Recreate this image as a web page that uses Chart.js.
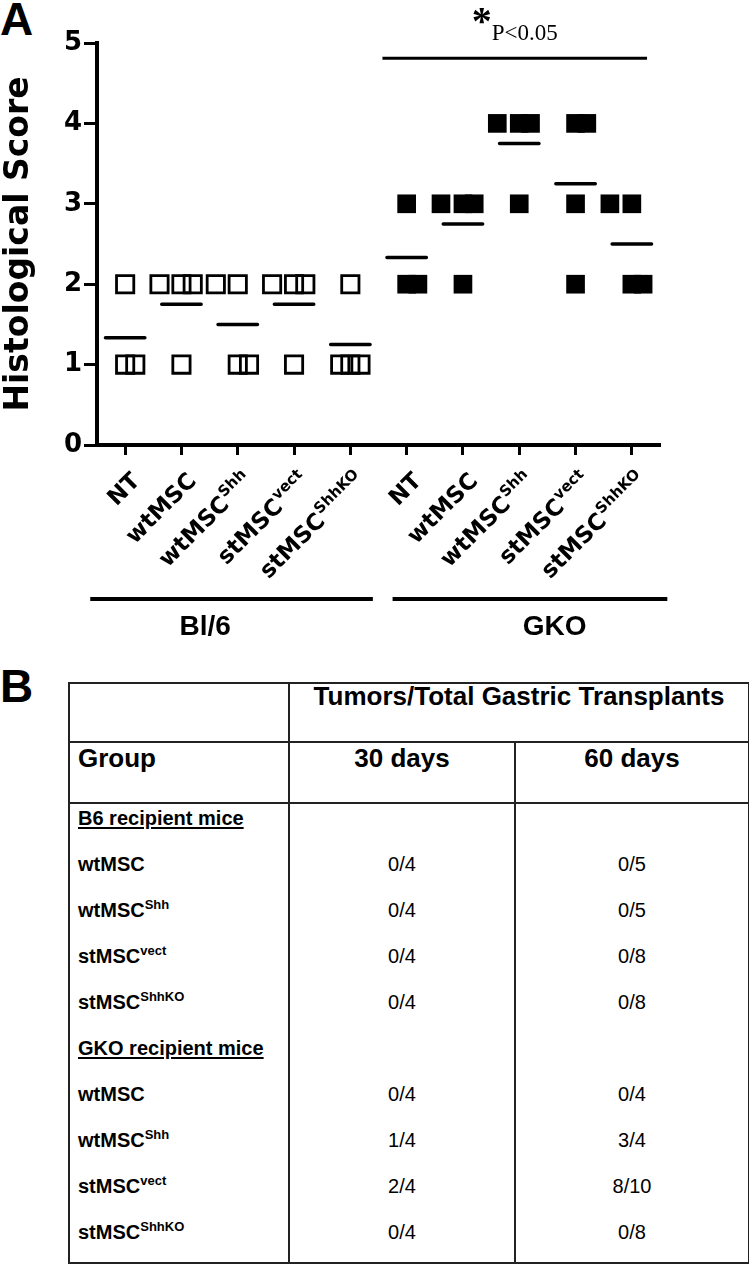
<!DOCTYPE html>
<html>
<head>
<meta charset="utf-8">
<script src="https://cdn.jsdelivr.net/npm/chart.js@4.4.0/dist/chart.umd.min.js"></script>
<style>
  body { margin: 0; background: #fff; width: 749px; height: 1268px; position: relative; overflow: hidden;
         font-family: "Liberation Sans", Arial, sans-serif; color: #000; }
  #chartBox { position: absolute; left: 0; top: 0; width: 749px; height: 680px; }
  .panel { position: absolute; left: 0; font: bold 46px "Liberation Sans", Arial, sans-serif; line-height: 46px; }
  #tbl { position: absolute; left: 68px; top: 682px; width: 680px; border-collapse: collapse;
         table-layout: fixed; border: 2px solid #222; }
  #tbl th { border: 2px solid #222; font-weight: bold; font-size: 26px; line-height: 22px; vertical-align: top; padding: 0; }
  #tbl td { border-left: 2px solid #222; border-right: 2px solid #222; border-top: none; border-bottom: none;
            font-size: 20px; line-height: 20px; vertical-align: top; padding: 4px 0 0 0; height: 42px; }
  #tbl .lab { font-weight: bold; padding-left: 8px; }
  #tbl .val { text-align: center; }
  #tbl sup { font-size: 13px; line-height: 0; vertical-align: 8px; font-weight: bold; }
  #tbl u { text-decoration-thickness: 2px; text-underline-offset: 2px; }
</style>
</head>
<body>
<div class="panel" style="top:-4px">A</div>
<div class="panel" style="top:663px">B</div>
<div id="chartBox"><canvas id="scoreChart"></canvas></div>
<table id="tbl">
  <colgroup><col style="width:220px"><col style="width:226px"><col style="width:234px"></colgroup>
  <thead>
    <tr style="height:59px"><th></th><th colspan="2" style="padding-top:1px">Tumors/Total Gastric Transplants</th></tr>
    <tr style="height:61px"><th style="text-align:left;padding:4px 0 0 8px">Group</th><th style="padding-top:4px">30 days</th><th style="padding-top:4px">60 days</th></tr>
  </thead>
  <tbody id="tbody"></tbody>
</table>
<script>
// {Histological score per group + tumor table}

// x categories (Bl/6 first five, GKO last five)
const categories = ['NT', 'wtMSC', 'wtMSC', 'stMSC', 'stMSC', 'NT', 'wtMSC', 'wtMSC', 'stMSC', 'stMSC'];
const sups = ['', '', 'Shh', 'vect', 'ShhKO', '', '', 'Shh', 'vect', 'ShhKO'];

// scores of each animal, and its horizontal scatter inside the column
const scores = [
  [2, 1, 1], [2, 2, 2, 1], [2, 2, 1, 1], [2, 2, 2, 1], [2, 1, 1, 1],
  [3, 2, 2], [3, 3, 3, 2], [4, 4, 4, 3], [4, 4, 3, 2], [3, 3, 2, 2]
];
const jitter = [
  [0, 0, 0.18], [-0.39, 0, 0.2, 0], [-0.39, 0, 0, 0.2], [-0.39, 0, 0.2, 0], [0, -0.18, 0, 0.18],
  [0, 0, 0.2], [-0.39, 0, 0.2, 0], [-0.39, 0, 0.2, 0], [0, 0.2, 0, 0], [-0.39, 0, 0, 0.2]
];
const yTicks = [0, 1, 2, 3, 4, 5];

// strain groups under the axis
const groups = ['Bl/6', 'GKO'];
const groupSpans = [[-0.62, 4.4], [4.75, 9.63]];
const groupLabelX = [1.42, 7.63];

// significance bar
const sigSpan = [4.57, 9.27];
const sigY = 4.81;
const sigText = 'P<0.05';

// table B
const recipients = ['B6 recipient mice', 'GKO recipient mice'];
const tableLabels = ['wtMSC', 'wtMSC', 'stMSC', 'stMSC'];
const tableSups = ['', 'Shh', 'vect', 'ShhKO'];
const b6Day30 = ['0/4', '0/4', '0/4', '0/4'];
const b6Day60 = ['0/5', '0/5', '0/8', '0/8'];
const gkoDay30 = ['0/4', '1/4', '2/4', '0/4'];
const gkoDay60 = ['0/4', '3/4', '8/10', '0/8'];

const meanHalf = 0.35;

// ---- table rows
const tbody = document.getElementById('tbody');
function addRow(labelHtml, v30, v60, extra) {
  const tr = document.createElement('tr');
  tr.innerHTML = '<td class="lab">' + labelHtml + '</td><td class="val">' + v30 + '</td><td class="val">' + v60 + '</td>';
  if (extra) tr.querySelectorAll('td').forEach(td => td.style.height = extra);
  tbody.appendChild(tr);
}
[[b6Day30, b6Day60], [gkoDay30, gkoDay60]].forEach((cols, g) => {
  addRow('<u>' + recipients[g] + '</u>', '', '');
  tableLabels.forEach((lab, k) => {
    const last = g === 1 && k === tableLabels.length - 1;
    addRow(lab + (tableSups[k] ? '<sup>' + tableSups[k] + '</sup>' : ''), cols[0][k], cols[1][k], last ? '40px' : null);
  });
});

// ---- chart data
const ptsBl6 = [], ptsGko = [], meanPts = [];
scores.forEach((vals, i) => {
  const target = i < 5 ? ptsBl6 : ptsGko;
  vals.forEach((v, k) => target.push({ x: i + jitter[i][k], y: v }));
  const m = vals.reduce((a, b) => a + b, 0) / vals.length;
  meanPts.push({ x: i - meanHalf, y: m }, { x: i + meanHalf, y: m }, { x: i + 0.5, y: null });
});

const extras = {
  id: 'extras',
  afterDraw(chart) {
    const { ctx, scales: { x, y } } = chart;
    const base = y.getPixelForValue(0);
    ctx.save();
    ctx.fillStyle = '#000';
    ctx.strokeStyle = '#000';

    // rotated category labels with superscripts
    categories.forEach((name, i) => {
      ctx.save();
      ctx.translate(x.getPixelForValue(i) + 16, base + 37);
      ctx.rotate(-Math.PI / 4);
      ctx.textAlign = 'right';
      ctx.textBaseline = 'alphabetic';
      let sw = 0;
      if (sups[i]) {
        ctx.font = 'bold 15px "DejaVu Sans"';
        sw = ctx.measureText(sups[i]).width + 1;
        ctx.fillText(sups[i], 0, -10);
      }
      ctx.font = 'bold 23px "DejaVu Sans"';
      ctx.fillText(name, -sw, 0);
      ctx.restore();
    });

    // group bars + names
    ctx.lineWidth = 4;
    groups.forEach((g, k) => {
      ctx.beginPath();
      ctx.moveTo(x.getPixelForValue(groupSpans[k][0]), base + 154);
      ctx.lineTo(x.getPixelForValue(groupSpans[k][1]), base + 154);
      ctx.stroke();
      ctx.font = 'bold 28px "Liberation Sans", Arial, sans-serif';
      ctx.textAlign = 'center';
      ctx.textBaseline = 'alphabetic';
      ctx.fillText(g, x.getPixelForValue(groupLabelX[k]), base + 190);
    });

    // * P<0.05 over the significance bar
    const mid = x.getPixelForValue((sigSpan[0] + sigSpan[1]) / 2);
    const ly = y.getPixelForValue(sigY);
    ctx.textAlign = 'left';
    ctx.font = 'bold 40px "Liberation Serif", "Times New Roman", serif';
    const ws = ctx.measureText('*').width;
    ctx.font = '23px "Liberation Serif", "Times New Roman", serif';
    const wp = ctx.measureText(sigText).width;
    const x0 = mid - (ws + wp) / 2;
    ctx.fillText(sigText, x0 + ws, ly - 18);
    ctx.font = 'bold 40px "Liberation Serif", "Times New Roman", serif';
    ctx.fillText('*', x0, ly - 24);
    ctx.restore();
  }
};

const ctxC = document.getElementById('scoreChart');
new Chart(ctxC, {
  type: 'scatter',
  data: {
    datasets: [
      {
        label: 'Bl/6',
        data: ptsBl6,
        pointStyle: 'rect',
        pointRadius: 12.2,
        pointBorderWidth: 2.8,
        borderColor: '#000',
        backgroundColor: 'rgba(255,255,255,0)'
      },
      {
        label: 'GKO',
        data: ptsGko,
        pointStyle: 'rect',
        pointRadius: 13.2,
        pointBorderWidth: 0,
        borderColor: '#000',
        backgroundColor: '#000'
      },
      {
        label: 'mean',
        data: meanPts,
        showLine: true,
        spanGaps: false,
        borderColor: '#000',
        borderWidth: 3.5,
        borderCapStyle: 'round',
        pointRadius: 0
      },
      {
        label: 'sig',
        data: sigSpan.map(v => ({ x: v, y: sigY })),
        showLine: true,
        borderColor: '#000',
        borderWidth: 3,
        pointRadius: 0,
        clip: false
      }
    ]
  },
  options: {
    responsive: true,
    maintainAspectRatio: false,
    animation: false,
    layout: { padding: { top: 43, right: 89, left: 0, bottom: 0 } },
    scales: {
      x: {
        type: 'linear',
        min: -0.5,
        max: 9.5,
        afterBuildTicks: s => { s.ticks = categories.map((c, i) => ({ value: i })); },
        afterFit: s => { s.height = 235; },
        ticks: { display: false },
        grid: { drawOnChartArea: false, drawTicks: true, tickLength: 10, tickWidth: 3, tickColor: '#000' },
        border: { display: true, width: 4, color: '#000' }
      },
      y: {
        min: 0,
        max: 5,
        afterBuildTicks: s => { s.ticks = yTicks.map(v => ({ value: v })); },
        afterFit: s => { s.width = 97; },
        ticks: { color: '#000', padding: 2, font: { family: 'DejaVu Sans', weight: 'bold', size: 26 } },
        grid: { drawOnChartArea: false, drawTicks: true, tickLength: 13, tickWidth: 3, tickColor: '#000' },
        border: { display: true, width: 4, color: '#000' },
        title: {
          display: true,
          text: 'Histological Score',
          color: '#000',
          padding: { top: 0, bottom: 0 },
          font: { family: 'DejaVu Sans', weight: 'bold', size: 33 }
        }
      }
    },
    plugins: {
      legend: { display: false },
      tooltip: { enabled: false }
    }
  },
  plugins: [extras]
});
</script>
</body>
</html>
